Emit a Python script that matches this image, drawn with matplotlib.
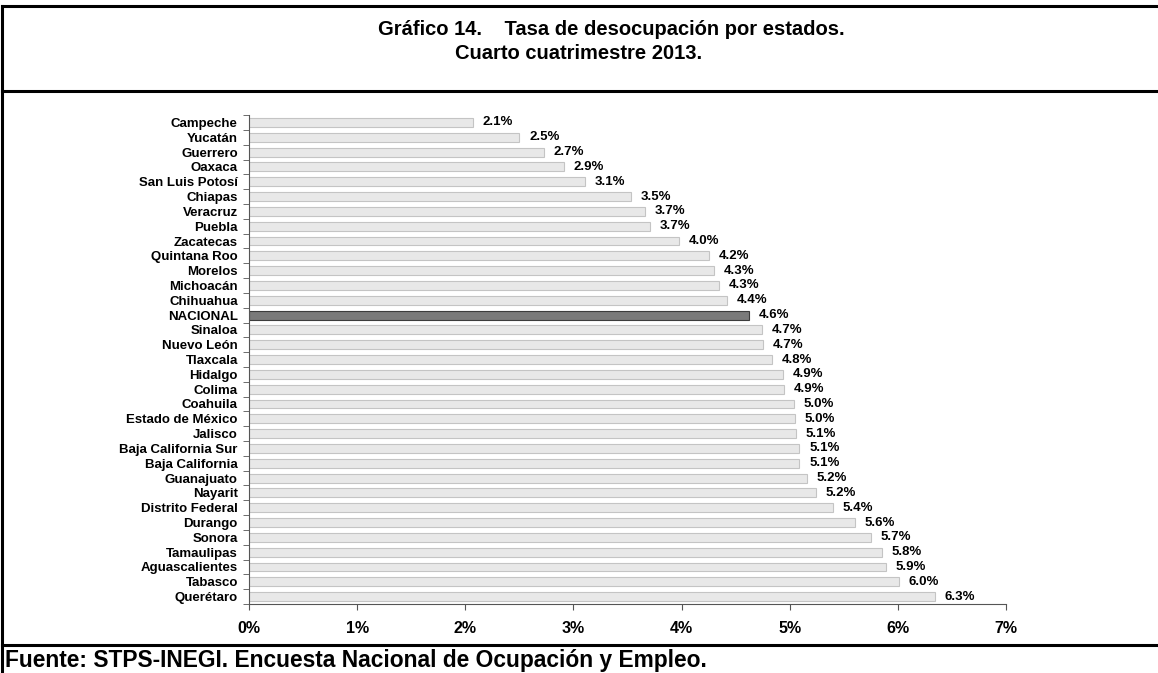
import numpy as np
import matplotlib
matplotlib.use("Agg")
import matplotlib.pyplot as plt
from matplotlib.lines import Line2D
from matplotlib.ticker import FixedLocator

plt.rcParams['font.family'] = ['Liberation Sans', 'DejaVu Sans']

estados = ["Campeche", "Yucatán", "Guerrero", "Oaxaca", "San Luis Potosí", "Chiapas",
           "Veracruz", "Puebla", "Zacatecas", "Quintana Roo", "Morelos", "Michoacán",
           "Chihuahua", "NACIONAL", "Sinaloa", "Nuevo León", "Tlaxcala", "Hidalgo",
           "Colima", "Coahuila", "Estado de México", "Jalisco", "Baja California Sur",
           "Baja California", "Guanajuato", "Nayarit", "Distrito Federal", "Durango",
           "Sonora", "Tamaulipas", "Aguascalientes", "Tabasco", "Querétaro"]
tasa = [2.07, 2.50, 2.73, 2.91, 3.11, 3.53, 3.66, 3.71, 3.98, 4.25, 4.30, 4.35,
        4.42, 4.62, 4.74, 4.75, 4.84, 4.94, 4.95, 5.04, 5.05, 5.06, 5.09,
        5.09, 5.16, 5.24, 5.40, 5.60, 5.75, 5.85, 5.89, 6.01, 6.34]
etiquetas = ["2.1%", "2.5%", "2.7%", "2.9%", "3.1%", "3.5%", "3.7%", "3.7%", "4.0%",
             "4.2%", "4.3%", "4.3%", "4.4%", "4.6%", "4.7%", "4.7%", "4.8%", "4.9%",
             "4.9%", "5.0%", "5.0%", "5.1%", "5.1%", "5.1%", "5.2%", "5.2%", "5.4%",
             "5.6%", "5.7%", "5.8%", "5.9%", "6.0%", "6.3%"]

fig = plt.figure(figsize=(11.58, 6.73), dpi=100)
ax = fig.add_axes([0.215, 0.1025, 0.6537, 0.7265])

y = np.arange(len(estados))
colores = ['#7a7a7a' if e == "NACIONAL" else '#e8e8e8' for e in estados]
bordes = ['#3c3c3c' if e == "NACIONAL" else '#c4c4c4' for e in estados]
ax.barh(y, tasa, height=0.6, color=colores, edgecolor=bordes, linewidth=0.8)

for yi, v, t in zip(y, tasa, etiquetas):
    ax.annotate(t, (v, yi), xytext=(7, 0), textcoords='offset points',
                va='center', ha='left', fontsize=9.5, fontweight='bold')

ax.set_xlim(0, 7)
ax.set_ylim(len(estados) - 0.5, -0.5)
ax.set_xticks(range(8))
ax.set_xticklabels([f"{i}%" for i in range(8)], fontsize=11.5, fontweight='bold')
ax.set_yticks(y)
ax.set_yticklabels(estados, fontsize=9.5, fontweight='bold')
ax.yaxis.set_minor_locator(FixedLocator(np.arange(-0.5, len(estados), 1)))
ax.tick_params(axis='y', which='major', length=0, pad=8)
ax.tick_params(axis='y', which='minor', length=4, direction='out', color='#555555')
ax.tick_params(axis='x', length=4, direction='out', color='#555555', pad=8)
for s in ['top', 'right']:
    ax.spines[s].set_visible(False)
ax.spines['left'].set_color('#555555')
ax.spines['bottom'].set_color('#555555')

fig.text(0.528, 0.956, "Gráfico 14.    Tasa de desocupación por estados.",
         ha='center', va='center', fontsize=14.5, fontweight='bold')
fig.text(0.5, 0.921, "Cuarto cuatrimestre 2013.",
         ha='center', va='center', fontsize=14.5, fontweight='bold')
fig.text(0.004, 0.019, "Fuente: STPS-INEGI. Encuesta Nacional de Ocupación y Empleo.",
         ha='left', va='center', fontsize=16.4, fontweight='bold')

for yy in [1 - 6 / 673, 1 - 91 / 673, 1 - 645 / 673]:
    fig.add_artist(Line2D([0.0017, 1.0], [yy, yy], color='black', linewidth=2.2,
                          transform=fig.transFigure))
fig.add_artist(Line2D([0.0017, 0.0017], [1 - 6 / 673, 0], color='black', linewidth=2.2,
                      transform=fig.transFigure))

fig.savefig("out.png", dpi=100)
